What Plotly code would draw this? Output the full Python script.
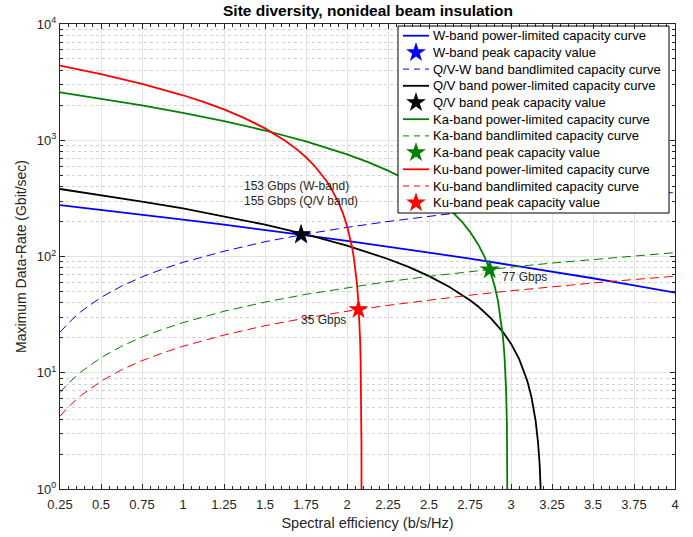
import plotly.graph_objects as go

# ---- data ----
eta_w = [0.25, 0.5, 0.75, 1.0, 1.25, 1.5, 1.75, 2.0, 2.25, 2.5, 2.75, 3.0, 3.25, 3.5, 3.75, 4.0]
w_power = [277, 253, 230, 208, 188, 170, 152, 136, 122, 108, 95.9, 84.6, 74.3, 65, 56.5, 48.8]

eta_qv = [0.25, 0.5, 0.75, 1.0, 1.25, 1.5, 1.75, 2.0, 2.25, 2.375, 2.5, 2.625, 2.75, 2.8, 2.875,
          2.95, 3.0, 3.05, 3.1, 3.125, 3.15, 3.165, 3.175, 3.185]
qv_power = [381, 338, 297, 259, 222, 188, 155, 124, 95.2, 81.3, 67.8, 54.7, 42, 37.1, 29.7,
            22.5, 17.8, 13.1, 8.44, 6.15, 3.87, 2.5, 1.6, 0.7]

eta_ka = [0.25, 0.5, 0.75, 1.0, 1.25, 1.5, 1.75, 2.0, 2.125, 2.25, 2.375, 2.5, 2.625, 2.7, 2.75,
          2.8, 2.84, 2.87, 2.9, 2.92, 2.95, 2.96, 2.97, 2.975, 2.978, 2.98]
ka_power = [2586, 2283, 1994, 1720, 1460, 1213, 979, 757, 651, 548, 448, 350, 255.5, 200, 163,
            127, 98.5, 77.1, 56, 42, 21, 14.1, 7.2, 3.7, 1.6, 0.2]

eta_ku = [0.25, 0.5, 0.75, 1.0, 1.125, 1.25, 1.375, 1.5, 1.625, 1.7, 1.75, 1.8, 1.875, 1.9, 1.95,
          1.975, 2.0, 2.015, 2.03, 2.04, 2.05, 2.06, 2.07, 2.075, 2.08, 2.083, 2.085, 2.087, 2.088, 2.089]
ku_power = [4380, 3707, 3060, 2438, 2136, 1840, 1550, 1265, 987, 822, 714, 606, 446, 393, 288,
            236, 184, 153, 122, 101, 80.6, 60, 39.5, 29.2, 18.9, 12.8, 8.7, 4.6, 2.5, 0.44]

eta_bl = [0.25, 0.3, 0.375, 0.5, 0.625, 0.75, 0.875, 1.0, 1.25, 1.5, 1.75, 2.0, 2.25, 2.5, 2.75, 3.0, 3.25, 3.5, 3.75, 4.0]
qvw_band = [22.25, 26.7, 33.4, 44.5, 55.6, 66.8, 77.9, 89, 111, 134, 156, 178, 200, 223, 245, 267, 289, 312, 334, 356]
ka_band = [6.75, 8.1, 10.1, 13.5, 16.9, 20.3, 23.6, 27, 33.8, 40.5, 47.3, 54, 60.8, 67.5, 74.3, 81, 87.8, 94.5, 101, 108]
ku_band = [4.23, 5.07, 6.34, 8.45, 10.6, 12.7, 14.8, 16.9, 21.1, 25.4, 29.6, 33.8, 38.0, 42.3, 46.5, 50.7, 54.9, 59.2, 63.4, 67.6]

w_peak = (1.72, 153)
qv_peak = (1.72, 155)
ka_peak = (2.87, 77)
ku_peak = (2.07, 35)

x_ticks = [0.25, 0.5, 0.75, 1, 1.25, 1.5, 1.75, 2, 2.25, 2.5, 2.75, 3, 3.25, 3.5, 3.75, 4]
x_tick_labels = ["0.25", "0.5", "0.75", "1", "1.25", "1.5", "1.75", "2", "2.25", "2.5", "2.75", "3", "3.25", "3.5", "3.75", "4"]
y_ticks = [1, 10, 100, 1000, 10000]
y_tick_labels = ["10<sup>0</sup>", "10<sup>1</sup>", "10<sup>2</sup>", "10<sup>3</sup>", "10<sup>4</sup>"]

BLUE, BLACK, GREEN, RED = "#0000ff", "#000000", "#008000", "#ff0000"
SW, DW, MS = 1.8, 1.0, 15
DASH = "9px,5px"
FONT = "Liberation Sans"
TXT = "#262626"

# (color, name, kind) in legend order
legend_items = [
    (BLUE, "W-band power-limited capacity curve", "solid"),
    (BLUE, "W-band peak capacity value", "star"),
    (BLUE, "Q/V-W band bandlimited capacity curve", "dash"),
    (BLACK, "Q/V band power-limited capacity curve", "solid"),
    (BLACK, "Q/V band peak capacity value", "star"),
    (GREEN, "Ka-band power-limited capacity curve", "solid"),
    (GREEN, "Ka-band bandlimited capacity curve", "dash"),
    (GREEN, "Ka-band peak capacity value", "star"),
    (RED, "Ku-band power-limited capacity curve", "solid"),
    (RED, "Ku-band bandlimited capacity curve", "dash"),
    (RED, "Ku-band peak capacity value", "star"),
]

fig = go.Figure()
def line(x, y, color, dash="solid", width=SW):
    fig.add_trace(go.Scatter(x=x, y=y, mode="lines", showlegend=False, hoverinfo="skip",
                             line=dict(color=color, width=width, dash=dash)))
def star(p, color):
    fig.add_trace(go.Scatter(x=[p[0]], y=[p[1]], mode="markers", showlegend=False,
                             marker=dict(symbol="star", size=MS, color=color, line=dict(width=0))))

line(eta_w, w_power, BLUE)
star(w_peak, BLUE)
line(eta_bl, qvw_band, BLUE, dash=DASH, width=DW)
line(eta_qv, qv_power, BLACK)
star(qv_peak, BLACK)
line(eta_ka, ka_power, GREEN)
line(eta_bl, ka_band, GREEN, dash=DASH, width=DW)
star(ka_peak, GREEN)
line(eta_ku, ku_power, RED)
line(eta_bl, ku_band, RED, dash=DASH, width=DW)
star(ku_peak, RED)

ann = dict(showarrow=False, xanchor="left", yanchor="middle", font=dict(family=FONT, size=12, color=TXT))
fig.add_annotation(x=1.357, y=2.606, text="153 Gbps (W-band)", **ann)
fig.add_annotation(x=1.357, y=2.477, text="155 Gbps (Q/V band)", **ann)
fig.add_annotation(x=2.93, y=1.824, text="77 Gbps", **ann)
fig.add_annotation(x=1.71, y=1.454, text="35 Gbps", **ann)

# ---- hand-built legend on an overlay pixel-space axis (MATLAB-like compact spacing) ----
LX0, LX1, LY0, LY1 = 398, 669, 26, 213
fig.add_trace(go.Scatter(x=[LX0, LX1, LX1, LX0, LX0], y=[LY0, LY0, LY1, LY1, LY0],
                         xaxis="x2", yaxis="y2", mode="lines", fill="toself",
                         fillcolor="white", line=dict(color="black", width=1),
                         showlegend=False, hoverinfo="skip"))
for i, (color, name, kind) in enumerate(legend_items):
    yc = 35.7 + 16.7 * i
    if kind == "star":
        fig.add_trace(go.Scatter(x=[416], y=[yc], xaxis="x2", yaxis="y2", mode="markers",
                                 marker=dict(symbol="star", size=MS, color=color, line=dict(width=0)),
                                 showlegend=False, hoverinfo="skip"))
    else:
        fig.add_trace(go.Scatter(x=[403, 429], y=[yc, yc], xaxis="x2", yaxis="y2", mode="lines",
                                 line=dict(color=color, width=SW if kind == "solid" else DW,
                                           dash="solid" if kind == "solid" else "6px,5px"),
                                 showlegend=False, hoverinfo="skip"))
    fig.add_annotation(x=431, y=yc, xref="x2", yref="y2", text=name, showarrow=False,
                       xanchor="left", yanchor="middle",
                       font=dict(family=FONT, size=13, color="black"))

minor_y = [m * 10 ** e for e in range(0, 4) for m in range(2, 10)]

fig.update_layout(
    width=693, height=537,
    margin=dict(l=60, r=18, t=24, b=48),
    paper_bgcolor="white", plot_bgcolor="white",
    font=dict(family=FONT, size=13, color=TXT),
    title=dict(text="<b>Site diversity, nonideal beam insulation</b>", x=0.531, xanchor="center",
               y=0.981, yanchor="middle", font=dict(family=FONT, size=15.5, color="black")),
    showlegend=False,
    xaxis=dict(
        range=[0.25, 4], tickvals=x_ticks, ticktext=x_tick_labels, automargin=False,
        showline=True, linecolor=TXT, linewidth=1, mirror="allticks",
        ticks="inside", ticklen=5, tickcolor=TXT, ticklabelstandoff=3,
        showgrid=True, gridcolor="#e3e3e3", gridwidth=1, zeroline=False,
        minor=dict(dtick=0.05, ticks="inside", ticklen=3, tickcolor=TXT, showgrid=False),
        title=dict(text="Spectral efficiency (b/s/Hz)", font=dict(size=14.5, color=TXT), standoff=7),
        tickfont=dict(size=13, color=TXT),
    ),
    yaxis=dict(
        type="log", range=[0, 4], tickvals=y_ticks, ticktext=y_tick_labels, automargin=False,
        showline=True, linecolor=TXT, linewidth=1, mirror="allticks",
        ticks="inside", ticklen=5, tickcolor=TXT,
        showgrid=True, gridcolor="#e3e3e3", gridwidth=1, zeroline=False,
        minor=dict(tickvals=minor_y, ticks="inside", ticklen=3, tickcolor=TXT,
                   showgrid=True, gridcolor="#d2d2d2", griddash="dot", gridwidth=1),
        title=dict(text="Maximum Data-Rate (Gbit/sec)", font=dict(size=14, color=TXT), standoff=6),
        tickfont=dict(size=13, color=TXT),
    ),
    xaxis2=dict(overlaying="x", range=[60, 675], visible=False, fixedrange=True),
    yaxis2=dict(overlaying="y", range=[489, 24], visible=False, fixedrange=True),
)

fig.write_html("out.html")
